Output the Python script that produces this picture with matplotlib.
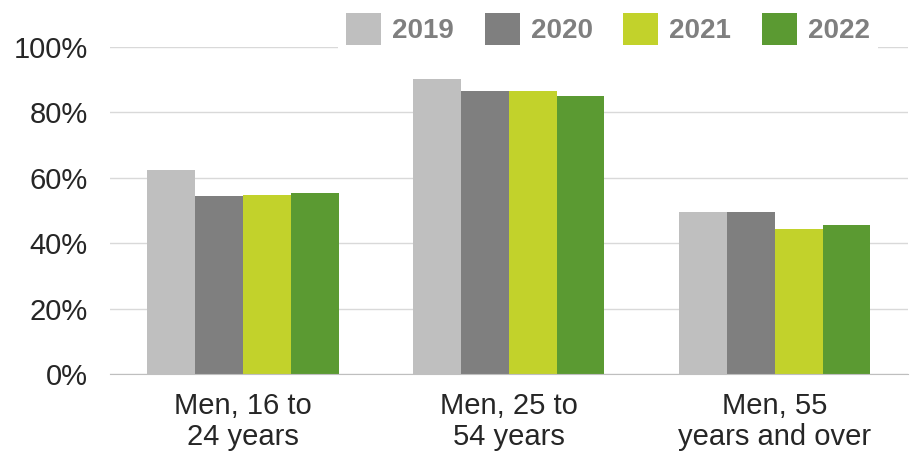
import numpy as np
import matplotlib.pyplot as plt
from matplotlib.patches import Patch

# === Data ===
categories = ["Men, 16 to\n24 years", "Men, 25 to\n54 years", "Men, 55\nyears and over"]
years = ["2019", "2020", "2021", "2022"]
values = {
    "2019": [62.4, 90.2, 49.5],
    "2020": [54.4, 86.7, 49.5],
    "2021": [54.7, 86.7, 44.3],
    "2022": [55.4, 85.0, 45.6],
}
colors = ["#bfbfbf", "#7f7f7f", "#c2d22b", "#5b9a32"]

plt.rcParams['font.family'] = ['Liberation Sans', 'DejaVu Sans']

fig = plt.figure(figsize=(9.15, 4.53), dpi=100)
ax = fig.add_axes([0.120, 0.1744, 0.872, 0.7218])

x = np.arange(len(categories))
width = 0.18
for i, yr in enumerate(years):
    ax.bar(x + (i - 1.5) * width, values[yr], width, color=colors[i], zorder=3)

ax.set_xlim(-0.5, len(categories) - 0.5)
ax.set_ylim(0, 100)
ax.set_yticks(np.arange(0, 101, 20))
ax.set_yticklabels([f"{v}%" for v in range(0, 101, 20)], fontsize=21, color="#262626")
ax.set_xticks(x)
ax.set_xticklabels(categories, fontsize=21, color="#262626", linespacing=1.15)
ax.tick_params(axis='y', length=0, pad=16)
ax.tick_params(axis='x', length=0, pad=13)
ax.grid(axis='y', color="#d9d9d9", linewidth=1, zorder=0)
for side in ["top", "right", "left"]:
    ax.spines[side].set_visible(False)
ax.spines["bottom"].set_color("#bfbfbf")
ax.spines["bottom"].set_zorder(4)

handles = [Patch(facecolor=c, edgecolor='none') for c in colors]
leg = fig.legend(handles, years, loc='center', bbox_to_anchor=(0.6645, 0.936), ncol=4,
                 frameon=True, fancybox=False, edgecolor='none', facecolor='white', framealpha=1,
                 handlelength=1.26, handleheight=1.37, handletextpad=0.4, columnspacing=1.1,
                 prop={'size': 20, 'weight': 'bold'}, borderpad=0.3)
for t in leg.get_texts():
    t.set_color("#7f7f7f")

fig.savefig("out.png", dpi=100)
